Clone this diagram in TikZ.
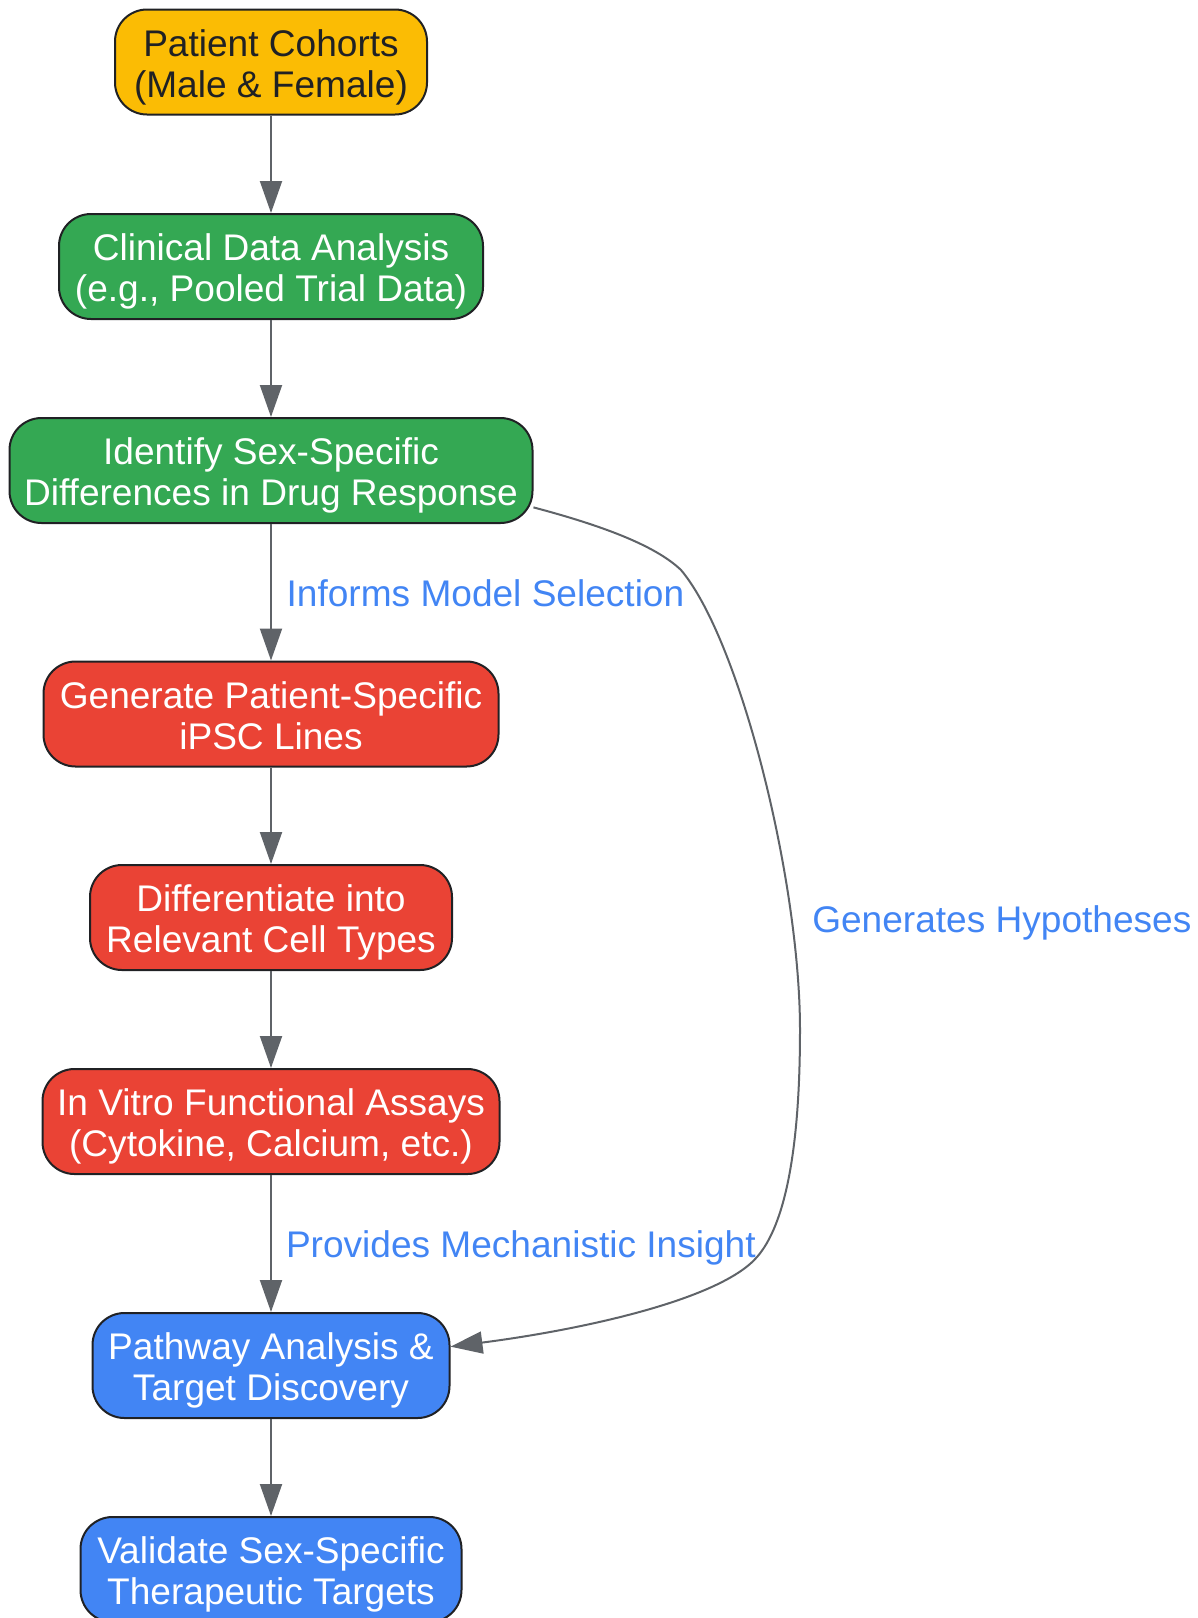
\documentclass[tikz,border=0pt]{standalone}
\usepackage{fontspec}
\setmainfont{Liberation Sans}
\usetikzlibrary{arrows.meta}
\definecolor{cyellow}{HTML}{FBBC04}
\definecolor{cgreen}{HTML}{34A853}
\definecolor{cred}{HTML}{EA4335}
\definecolor{cblue}{HTML}{4285F4}
\definecolor{cborder}{HTML}{202124}
\definecolor{cgray}{HTML}{5F6368}
\newcommand{\diafont}{\fontsize{27.8pt}{30.75pt}\selectfont}
\newcommand{\boxtext}[2]{\begin{tabular}{@{}c@{}}\rule{0pt}{31.4pt}#1\\#2\end{tabular}}
\begin{document}
\begin{tikzpicture}[x=0.75pt,y=-0.75pt,
  box/.style={draw=cborder,line width=1.5pt,rounded corners=24pt,inner sep=0pt,
    minimum height=78.75pt,font=\diafont,text=white},
  conn/.style={draw=cgray,line width=1.5pt,-{Triangle[length=24pt,width=16.5pt]}},
  lbl/.style={text=cblue,font=\diafont,inner sep=0pt,anchor=base west}]
\useasboundingbox (0,0) rectangle (1198,1618);

\node[box,fill=cyellow,text=cborder,minimum width=234pt] (n1) at (271,62) {\boxtext{Patient Cohorts}{(Male \& Female)}};
\node[box,fill=cgreen,minimum width=318pt] (n2) at (271,266.5) {\boxtext{Clinical Data Analysis}{(e.g., Pooled Trial Data)}};
\node[box,fill=cgreen,minimum width=392.25pt] (n3) at (271,470.5) {\boxtext{Identify Sex-Specific}{Differences in Drug Response}};
\node[box,fill=cred,minimum width=341.25pt] (n4) at (271,714) {\boxtext{Generate Patient-Specific}{iPSC Lines}};
\node[box,fill=cred,minimum width=271.5pt] (n5) at (271,917.5) {\boxtext{Differentiate into}{Relevant Cell Types}};
\node[box,fill=cred,minimum width=342.75pt] (n6) at (271,1121.5) {\boxtext{In Vitro Functional Assays}{(Cytokine, Calcium, etc.)}};
\node[box,fill=cblue,minimum width=267.75pt] (n7) at (271,1365.5) {\boxtext{Pathway Analysis \&}{Target Discovery}};
\node[box,fill=cblue,minimum width=285.75pt] (n8) at (271,1569.5) {\boxtext{Validate Sex-Specific}{Therapeutic Targets}};

\draw[conn] (n1) -- (n2);
\draw[conn] (n2) -- (n3);
\draw[conn] (n3) -- (n4) node[lbl,midway,xshift=11pt,yshift=-10.5pt] (l1) {Informs Model Selection};
\draw[conn] (n4) -- (n5);
\draw[conn] (n5) -- (n6);
\draw[conn] (n6) -- (n7) node[lbl,midway,xshift=10.5pt,yshift=-10.5pt] (l2) {Provides Mechanistic Insight};
\draw[conn] (n7) -- (n8);
\draw[conn] (n3.-8.6) .. controls (600,525) and (655,545) .. (681,570)
  .. controls (740,640) and (800,880) .. (800,1030)
  .. controls (800,1150) and (785,1225) .. (757,1257)
  .. controls (720,1300) and (580,1330) .. (n7.6);
\node[lbl] (l3) at (812,932) {Generates Hypotheses};
\end{tikzpicture}
\end{document}
